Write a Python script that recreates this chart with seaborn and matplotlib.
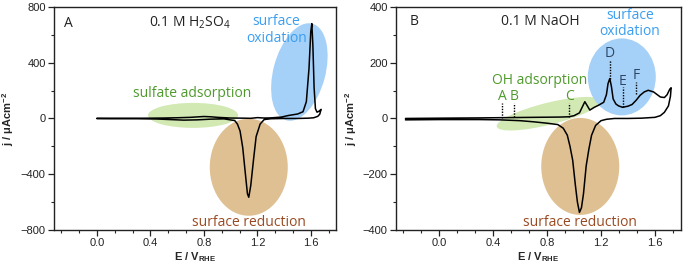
import numpy as np
import pandas as pd
import matplotlib
matplotlib.use('Agg')
import matplotlib.pyplot as plt
import seaborn as sns
from matplotlib.patches import Ellipse
from matplotlib.transforms import ScaledTranslation
from matplotlib.ticker import MultipleLocator

# --- panel A: 0.1 M H2SO4 ---
E_a_fwd = [0.0, 0.2, 0.4, 0.5, 0.6, 0.7, 0.8, 0.85, 0.9, 1.0, 1.1, 1.15, 1.2, 1.25, 1.3, 1.38,
           1.43, 1.5, 1.54, 1.565, 1.585, 1.598, 1.606, 1.614, 1.623, 1.633, 1.645, 1.66, 1.675]
j_a_fwd = [0, 1, 2, 3, 5, 8, 14, 12, 8, 3, 2, 1, 6, 3, 4, 10,
           21, 32, 48, 120, 360, 620, 680, 520, 220, 70, 45, 52, 65]
E_a_rev = [1.675, 1.665, 1.65, 1.62, 1.58, 1.5, 1.4, 1.3, 1.25, 1.22, 1.19, 1.17, 1.15, 1.135,
           1.125, 1.11, 1.09, 1.07, 1.05, 1.03, 0.95, 0.85, 0.75, 0.65, 0.55, 0.45, 0.3, 0.1, 0.0]
j_a_rev = [65, 30, 15, 5, 2, 0, 0, -2, -8, -40, -130, -300, -480, -565,
           -540, -400, -210, -90, -40, -15, -3, -5, -10, -12, -8, -4, -2, -1, 0]

# --- panel B: 0.1 M NaOH ---
E_b_fwd = [-0.25, 0.0, 0.3, 0.5, 0.7, 0.9, 0.96, 1.0, 1.04, 1.065, 1.08, 1.095, 1.117, 1.15,
           1.18, 1.22, 1.24, 1.252, 1.265, 1.277, 1.29, 1.31, 1.33, 1.36, 1.4, 1.43, 1.46,
           1.49, 1.52, 1.55, 1.59, 1.64, 1.67, 1.69, 1.71, 1.72]
j_b_fwd = [0, 1, 2, 3, 4, 5, 6, 10, 20, 45, 60, 48, 30, 40,
           47, 58, 85, 125, 143, 115, 70, 52, 45, 40, 44, 50, 65,
           83, 95, 101, 95, 77, 75, 85, 105, 110]
E_b_rev = [1.72, 1.715, 1.70, 1.67, 1.64, 1.6, 1.5, 1.4, 1.3, 1.24, 1.2, 1.16, 1.13, 1.11,
           1.09, 1.07, 1.055, 1.04, 1.025, 1.01, 0.99, 0.97, 0.95, 0.92, 0.88, 0.8, 0.7,
           0.6, 0.45, 0.3, 0.0, -0.25]
j_b_rev = [110, 80, 45, 22, 10, 4, 1, 0, 0, -3, -8, -25, -60, -110,
           -170, -270, -320, -337, -300, -240, -150, -100, -60, -35, -22, -17, -12,
           -8, -5, -4, -4, -5]

# dotted peak markers in panel B
peak_names = ['A', 'B', 'C', 'D', 'E', 'F']
peak_E = [0.465, 0.556, 0.965, 1.265, 1.36, 1.462]
peak_lo = [0, 5, 6, 143, 40, 86]
peak_hi = [55, 55, 55, 210, 112, 131]
peak_colors = ['#4f9a2c'] * 3 + ['#2c4766'] * 3

BLUE_FILL, BLUE_TXT = '#a5d0f7', '#3a9ef0'
GREEN_FILL, GREEN_TXT = '#d2e9b4', '#4f9a2c'
BROWN_FILL, BROWN_TXT = '#dfc092', '#9a4a22'

# highlight ellipses: (E, j) centre, width/height in inches, angle
ellipses_a = [((0.719, 22), 0.90, 0.25, 0, GREEN_FILL),
              ((1.513, 333), 0.52, 1.00, -15, BLUE_FILL),
              ((1.135, -350), 0.78, 0.97, 0, BROWN_FILL)]
ellipses_b = [((0.812, 17), 1.07, 0.22, 14, GREEN_FILL),
              ((1.354, 149), 0.68, 0.77, 0, BLUE_FILL),
              ((1.046, -172), 0.78, 0.97, 0, BROWN_FILL)]

sns.set_theme(style='ticks')
plt.rcParams['font.family'] = ['Liberation Sans', 'DejaVu Sans']
plt.rcParams['mathtext.fontset'] = 'custom'
plt.rcParams['mathtext.rm'] = 'Open Sans'
plt.rcParams['mathtext.bf'] = 'Liberation Sans:bold'
NOTE_FONT = ['Open Sans', 'DejaVu Sans']

fig = plt.figure(figsize=(6.84, 2.65), dpi=100)
ax1 = fig.add_axes([0.0789, 0.132, 0.413, 0.842])
ax2 = fig.add_axes([0.579, 0.132, 0.416, 0.842])


def cv_frame(E_f, j_f, E_r, j_r):
    return pd.DataFrame({'E': list(E_f) + list(E_r), 'j': list(j_f) + list(j_r)})


def style_axis(ax, ylim, ymajor):
    ax.set_xlim(-0.32, 1.79)
    ax.set_ylim(*ylim)
    ax.xaxis.set_major_locator(MultipleLocator(0.4))
    ax.xaxis.set_minor_locator(MultipleLocator(0.4 / 3))
    ax.yaxis.set_major_locator(MultipleLocator(ymajor))
    ax.yaxis.set_minor_locator(MultipleLocator(ymajor / 2))
    ax.xaxis.set_major_formatter(matplotlib.ticker.FormatStrFormatter('%.1f'))
    ax.tick_params(which='major', direction='out', length=4, width=0.9, labelsize=8,
                   colors='#222222', pad=2)
    ax.tick_params(which='minor', direction='out', length=2, width=0.8)
    for s in ax.spines.values():
        s.set_linewidth(1.0)
        s.set_color('#222222')
    ax.set_xlabel(r'E / V$_{\mathbf{RHE}}$', fontsize=8, fontweight='bold', labelpad=1)
    ax.set_ylabel(r'j / μAcm$^{\mathbf{-2}}$', fontsize=8, fontweight='bold', labelpad=3)


def add_ellipses(ax, specs):
    for (cx, cy), w, h, ang, col in specs:
        tr = fig.dpi_scale_trans + ScaledTranslation(cx, cy, ax.transData)
        ax.add_patch(Ellipse((0, 0), w, h, angle=ang, transform=tr, facecolor=col,
                             edgecolor='none', zorder=1))


def note(ax, x, y, s, color, size=10, **kw):
    ax.text(x, y, s, color=color, fontsize=size, family=NOTE_FONT, ha='center',
            va='center', zorder=4, **kw)


# panel A
style_axis(ax1, (-800, 800), 400)
add_ellipses(ax1, ellipses_a)
sns.lineplot(data=cv_frame(E_a_fwd, j_a_fwd, E_a_rev, j_a_rev), x='E', y='j', sort=False,
             estimator=None, color='black', lw=1.1, ax=ax1, zorder=3)
style_axis(ax1, (-800, 800), 400)
note(ax1, -0.21, 683, 'A', '#222222')
note(ax1, 0.695, 683, r'0.1 M H$_2$SO$_4$', '#222222')
note(ax1, 1.34, 633, 'surface\noxidation', BLUE_TXT, linespacing=1.15)
note(ax1, 0.71, 180, 'sulfate adsorption', GREEN_TXT)
note(ax1, 1.135, -748, 'surface reduction', BROWN_TXT)

# panel B
style_axis(ax2, (-400, 400), 200)
add_ellipses(ax2, ellipses_b)
sns.lineplot(data=cv_frame(E_b_fwd, j_b_fwd, E_b_rev, j_b_rev), x='E', y='j', sort=False,
             estimator=None, color='black', lw=1.1, ax=ax2, zorder=3)
for name, e, lo, hi, col in zip(peak_names, peak_E, peak_lo, peak_hi, peak_colors):
    ax2.plot([e, e], [lo, hi], ls=(0, (1, 1)), color='black', lw=1.0, zorder=3)
    note(ax2, e, hi + 22, name, col)
style_axis(ax2, (-400, 400), 200)
note(ax2, -0.185, 346, 'B', '#222222')
note(ax2, 0.75, 346, '0.1 M NaOH', '#222222')
note(ax2, 1.415, 340, 'surface\noxidation', BLUE_TXT, linespacing=1.15)
note(ax2, 0.743, 137, 'OH adsorption', GREEN_TXT)
note(ax2, 1.046, -373, 'surface reduction', BROWN_TXT)

fig.savefig('out.png', dpi=100)
